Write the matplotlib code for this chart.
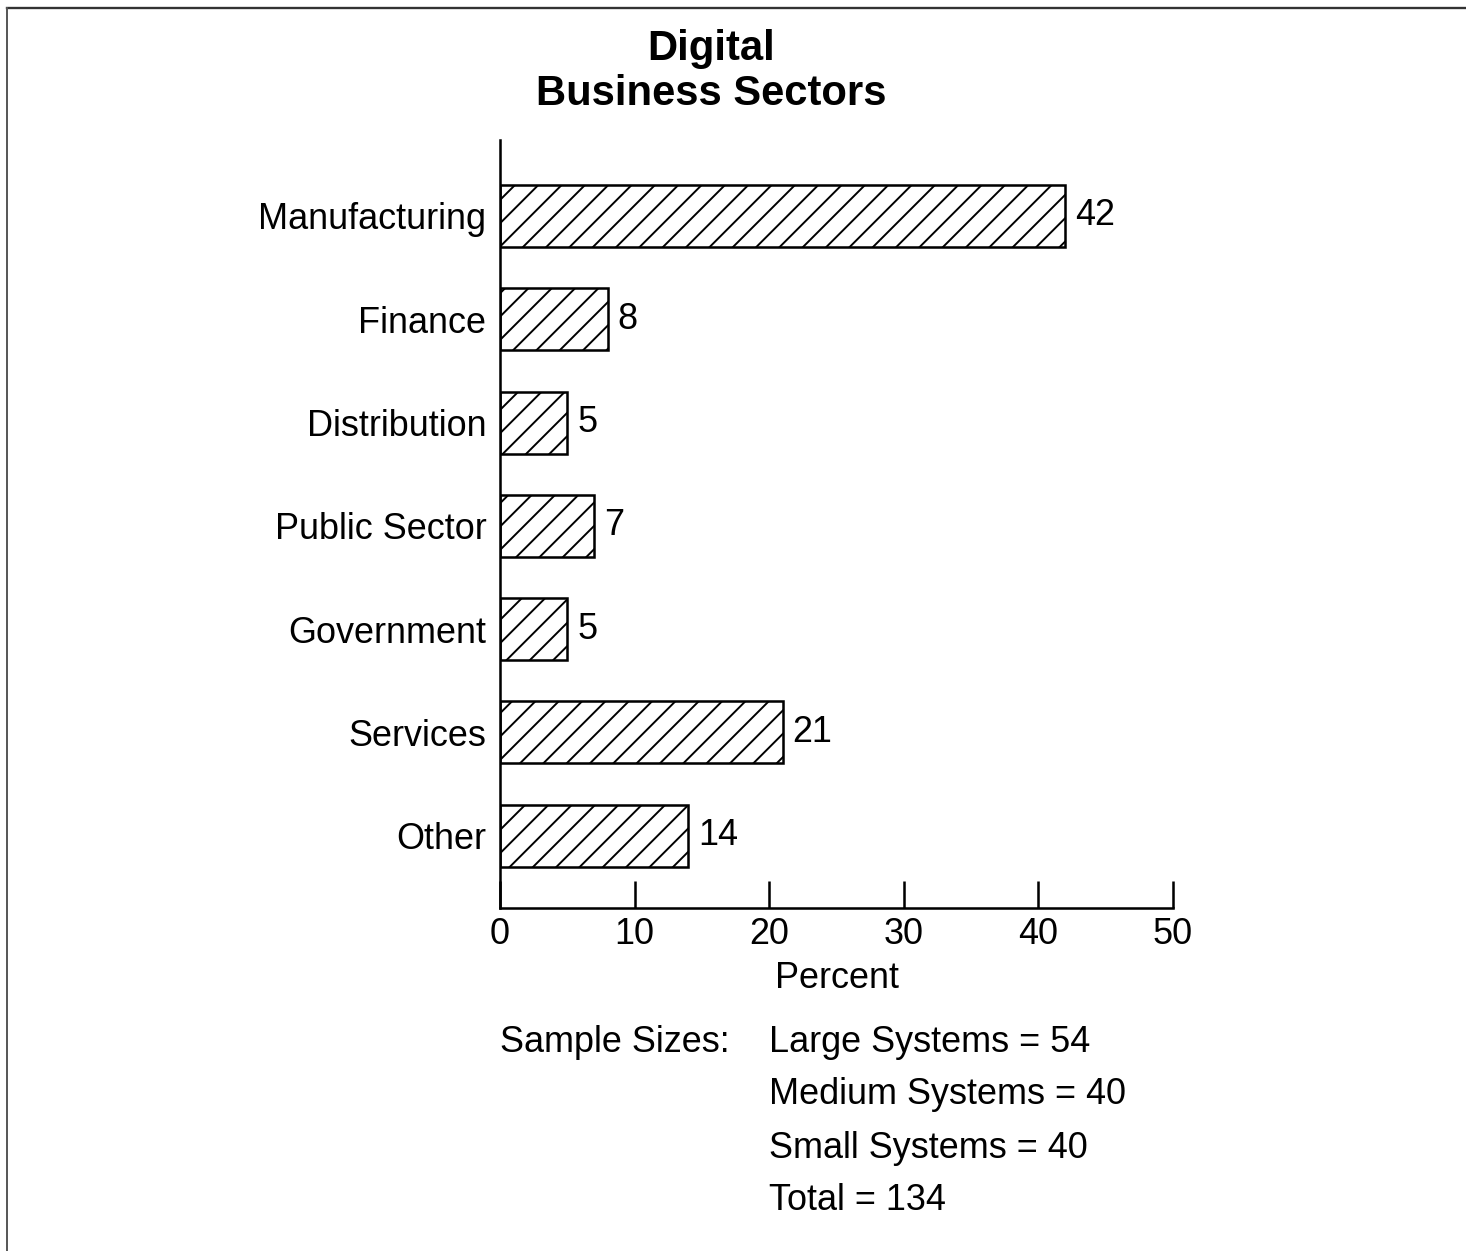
import matplotlib
matplotlib.use("Agg")
import matplotlib.pyplot as plt
from matplotlib.lines import Line2D

categories = ["Manufacturing", "Finance", "Distribution", "Public Sector",
              "Government", "Services", "Other"]
values = [42, 8, 5, 7, 5, 21, 14]
xticks = [0, 10, 20, 30, 40, 50]
title_lines = ["Digital", "Business Sectors"]
sample_labels = ["Large Systems = 54", "Medium Systems = 40",
                 "Small Systems = 40", "Total = 134"]

DPI = 140
W, H = 1466, 1251
FS = 18.5
plt.rcParams['font.family'] = ['Liberation Sans', 'DejaVu Sans']
plt.rcParams['hatch.linewidth'] = 1.0

fig = plt.figure(figsize=(W / DPI, H / DPI), dpi=DPI, facecolor='white')
ax = fig.add_axes([500 / W, 1 - 908 / H, (1173 - 500) / W, (908 - 140) / H])
ax.set_facecolor('none')

ypos = list(range(len(categories)))
bars = ax.barh(ypos, values, height=0.6, color='white', edgecolor='black',
               linewidth=1.3, hatch='//')
ax.set_ylim(6.70, -0.735)
ax.set_xlim(0, 50)

for y, v in zip(ypos, values):
    ax.annotate(str(v), (v, y), xytext=(5, 0), textcoords='offset points',
                ha='left', va='center', fontsize=FS)

ax.set_yticks(ypos)
ax.set_yticklabels(categories, fontsize=FS)
ax.tick_params(axis='y', length=0, pad=7)
ax.set_xticks(xticks)
ax.set_xticklabels([str(t) for t in xticks], fontsize=FS)
ax.tick_params(axis='x', direction='in', length=14, width=1.3, pad=4.5)
ax.set_xlabel("Percent", fontsize=FS, labelpad=4.5)

for s in ['top', 'right']:
    ax.spines[s].set_visible(False)
for s in ['left', 'bottom']:
    ax.spines[s].set_linewidth(1.3)

fig.text(711 / W, 1 - 49 / H, title_lines[0], ha='center', va='center',
         fontsize=21.5, fontweight='bold')
fig.text(711 / W, 1 - 94 / H, title_lines[1], ha='center', va='center',
         fontsize=21.5, fontweight='bold')

fig.text(500 / W, 1 - 1042 / H, "Sample Sizes:", ha='left', va='center', fontsize=FS)
for i, lab in enumerate(sample_labels):
    yy = [1042, 1095, 1148, 1200][i]
    fig.text(769 / W, 1 - yy / H, lab, ha='left', va='center', fontsize=FS)

# page frame
fig.add_artist(Line2D([7 / W, 1.0], [1 - 8 / H, 1 - 8 / H], color='#333333',
                      linewidth=1.2, transform=fig.transFigure))
fig.add_artist(Line2D([7 / W, 7 / W], [1 - 8 / H, 0.0], color='#555555',
                      linewidth=1.0, transform=fig.transFigure))

fig.savefig("out.png", dpi=DPI, facecolor='white')
